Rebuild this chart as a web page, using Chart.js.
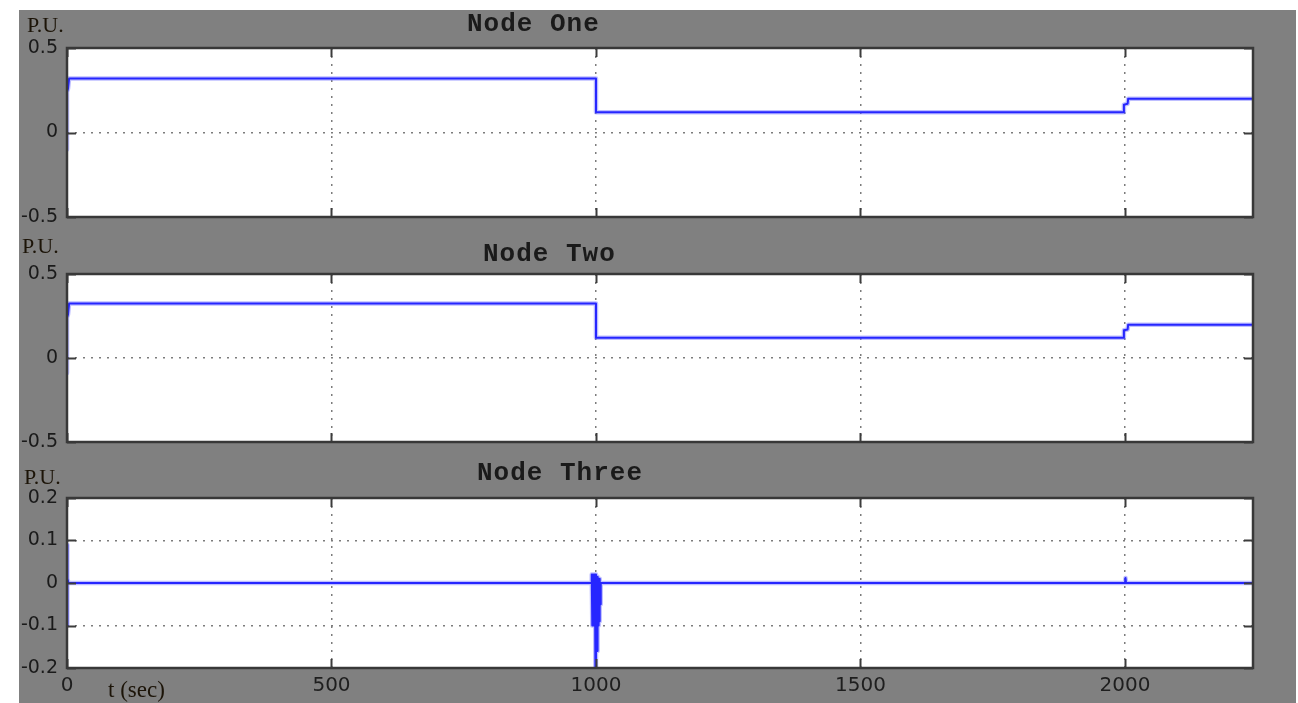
<!DOCTYPE html>
<html>
<head>
<meta charset="utf-8">
<title>Node One / Two / Three</title>
<script src="https://cdn.jsdelivr.net/npm/chart.js@4/dist/chart.umd.min.js"></script>
<style>
  html, body { margin: 0; padding: 0; background: #ffffff; }
  body { width: 1298px; height: 703px; position: relative; overflow: hidden; }
  #frame { position: absolute; left: 19px; top: 10px; width: 1277px; height: 693px; background: #808080; }
  canvas { position: absolute; left: 19px; }
</style>
</head>
<body>
<div id="frame"></div>
<canvas id="c1" style="top:10px"></canvas>
<canvas id="c2" style="top:235px"></canvas>
<canvas id="c3" style="top:455px"></canvas>
<script>
// time axis
const timeMax = 2242;
const timeTicks = [0, 500, 1000, 1500, 2000];

// per-unit ticks
const ticksHalf = [-0.5, 0, 0.5];
const ticksFine = [-0.2, -0.1, 0, 0.1, 0.2];

// Node One
const node1T = [0, 0, 2, 4, 1000, 1000, 1997, 1998, 2005, 2006, 2242];
const node1V = [-0.1, 0.24, 0.26, 0.32, 0.32, 0.12, 0.12, 0.165, 0.17, 0.2, 0.2];

// Node Two
const node2T = [0, 0, 2, 4, 1000, 1000, 1997, 1998, 2005, 2006, 2242];
const node2V = [-0.09, 0.24, 0.26, 0.325, 0.325, 0.12, 0.12, 0.165, 0.17, 0.198, 0.198];

// Node Three
const node3T = [0, 0, 0.5, 1.5, 3, 991, 992, 993, 994, 995, 996, 997, 998, 999, 1000, 1001, 1002, 1003, 1004, 1005, 1006, 1007, 1008, 1009, 1998, 2000, 2001, 2002, 2242];
const node3V = [0.09, -0.1, 0.025, 0.01, 0, 0, 0.02, -0.1, 0.02, -0.1, 0.02, -0.1, 0.02, -0.24, 0.02, -0.1, -0.16, 0.015, -0.1, 0.01, -0.09, 0.01, -0.05, 0, 0, 0, 0.012, 0, 0];

const titles = ['Node One', 'Node Two', 'Node Three'];
const unitLabel = 'P.U.';
const timeLabel = 't (sec)';

const FRAME_LEFT = 19;
const CANVAS_W = 1277;

function toPoints(ts, vs) { return ts.map((t, i) => ({ x: t, y: vs[i] })); }

// white plot area, inward tick marks, box, and panel texts
const panelDecor = {
  id: 'panelDecor',
  beforeDraw(chart) {
    const { ctx, chartArea: a } = chart;
    ctx.save();
    ctx.fillStyle = '#ffffff';
    ctx.fillRect(a.left, a.top, a.right - a.left, a.bottom - a.top);
    ctx.restore();
  },
  afterDraw(chart, args, o) {
    const { ctx, chartArea: a } = chart;
    const xs = chart.scales.x, ys = chart.scales.y;
    const tl = 9;
    ctx.save();
    ctx.strokeStyle = '#3c3c3c';
    ctx.lineWidth = 2;
    ctx.beginPath();
    xs.ticks.forEach(t => {
      const px = Math.round(xs.getPixelForValue(t.value)) + 0.5;
      ctx.moveTo(px, a.bottom); ctx.lineTo(px, a.bottom - tl);
      ctx.moveTo(px, a.top); ctx.lineTo(px, a.top + tl);
    });
    ys.ticks.forEach(t => {
      const py = Math.round(ys.getPixelForValue(t.value)) + 0.5;
      ctx.moveTo(a.left, py); ctx.lineTo(a.left + tl, py);
      ctx.moveTo(a.right, py); ctx.lineTo(a.right - tl, py);
    });
    ctx.stroke();
    ctx.lineWidth = 2.5;
    ctx.strokeStyle = '#383838';
    ctx.strokeRect(a.left, a.top, a.right - a.left, a.bottom - a.top);

    // texts
    ctx.fillStyle = '#1a1a1a';
    ctx.textBaseline = 'alphabetic';
    ctx.textAlign = 'left';
    ctx.font = 'bold 26px "Liberation Mono", "DejaVu Sans Mono", monospace';
    if ('letterSpacing' in ctx) ctx.letterSpacing = '1px';
    ctx.fillText(o.title, o.titleX - FRAME_LEFT, o.titleBase - o.top);
    if ('letterSpacing' in ctx) ctx.letterSpacing = '0px';
    ctx.fillStyle = '#1c1408';
    ctx.font = '22px "Liberation Serif", "Times New Roman", serif';
    ctx.fillText(unitLabel, o.unitX - FRAME_LEFT, o.unitBase - o.top);
    if (o.showTime) {
      ctx.font = '23px "Liberation Serif", "Times New Roman", serif';
      ctx.fillText(timeLabel, 108 - FRAME_LEFT, 697 - o.top);
    }
    ctx.restore();
  }
};

function makePanel(id, top, height, pts, yMin, yMax, yTicks, xHeight, showX, decor, padTop) {
  const canvas = document.getElementById(id);
  canvas.width = CANVAS_W; canvas.height = height;
  canvas.style.width = CANVAS_W + 'px'; canvas.style.height = height + 'px';
  const gridCommon = { color: '#7c7c7c', lineWidth: 1.5, drawTicks: false };
  const lineCommon = { pointRadius: 0, tension: 0, fill: false, borderJoinStyle: 'round', borderCapStyle: 'round' };
  return new Chart(canvas, {
    type: 'line',
    data: {
      datasets: [
        Object.assign({ data: pts, borderColor: '#2626ff', borderWidth: 2 }, lineCommon),
        Object.assign({ data: pts, borderColor: 'rgba(110,110,255,0.45)', borderWidth: 4.5 }, lineCommon)
      ]
    },
    options: {
      responsive: false,
      animation: false,
      layout: { autoPadding: false, padding: { left: 0, right: 43, top: padTop, bottom: 0 } },
      plugins: { legend: { display: false }, tooltip: { enabled: false }, title: { display: false }, panelDecor: decor },
      scales: {
        x: {
          type: 'linear', min: 0, max: timeMax,
          afterBuildTicks(s) { s.ticks = timeTicks.map(v => ({ value: v })); },
          afterFit(s) { s.height = xHeight; },
          grid: gridCommon,
          border: { display: false, dash: [2, 6] },
          ticks: {
            display: showX, padding: 6, color: '#1e1e1e', maxRotation: 0, autoSkip: false,
            font: { family: '"DejaVu Sans", sans-serif', size: 20 },
            callback: v => String(v)
          }
        },
        y: {
          type: 'linear', min: yMin, max: yMax,
          afterBuildTicks(s) { s.ticks = yTicks.map(v => ({ value: v })); },
          afterFit(s) { s.width = 48; },
          grid: gridCommon,
          border: { display: false, dash: [2, 6] },
          ticks: {
            padding: 9, color: '#1a1a1a',
            font: { family: '"DejaVu Sans", sans-serif', size: 19 },
            callback: v => String(v)
          }
        }
      }
    },
    plugins: [panelDecor]
  });
}

makePanel('c1', 10, 232, toPoints(node1T, node1V), -0.5, 0.5, ticksHalf, 25, false,
  { title: titles[0], titleX: 467, titleBase: 31, unitX: 27, unitBase: 32, top: 10 }, 38);
makePanel('c2', 235, 232, toPoints(node2T, node2V), -0.5, 0.5, ticksHalf, 25, false,
  { title: titles[1], titleX: 483, titleBase: 261, unitX: 22, unitBase: 253, top: 235 }, 39);
makePanel('c3', 455, 248, toPoints(node3T, node3V), -0.2, 0.2, ticksFine, 35, true,
  { title: titles[2], titleX: 477, titleBase: 480, unitX: 24, unitBase: 484, top: 455, showTime: true }, 43);
</script>
</body>
</html>
